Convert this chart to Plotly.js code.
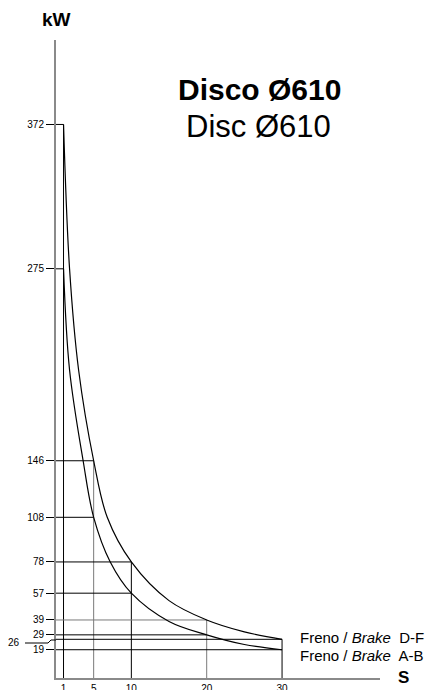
<!DOCTYPE html>
<html>
<head>
<meta charset="utf-8">
<script src="https://cdn.plot.ly/plotly-3.0.1.min.js"></script>
<style>html,body{margin:0;padding:0;background:#fff;}#chart{width:427px;height:690px;}</style>
</head>
<body>
<div id="chart"></div>
<script>
// ---- data ----
const markS  = [1, 5, 10, 20, 30];          // s values with reference lines
const markDF = [372, 146, 78, 39, 26];      // Freno D-F at those s
const markAB = [275, 108, 57, 29, 19];      // Freno A-B at those s

const curveDF_s  = [1, 1.8, 3, 5, 6.8, 10, 15, 20, 25, 30];
const curveDF_kw = [372, 275, 207, 146, 108, 78, 52, 39, 31, 26];
const curveAB_s  = [1, 1.8, 3.6, 5, 7.2, 10, 15, 20, 25, 30];
const curveAB_kw = [275, 207, 146, 108, 78, 57, 38, 29, 22.5, 19];

const kwTicks = [372, 275, 146, 108, 78, 57, 39, 29, 19];
const kwOffsetTick = 26;
const sTicks = [1, 5, 10, 20, 30];

const titleBold = 'Disco Ø610';
const titleReg = 'Disc Ø610';
const labelDF = 'Freno / <i>Brake</i>  D-F';
const labelAB = 'Freno / <i>Brake</i>  A-B';

// ---- layout geometry ----
const M = {l: 56, r: 47, t: 40, b: 12};
const W = 427, H = 690;
const PW = W - M.l - M.r, PH = H - M.t - M.b;
const px = p => (p - M.l) / PW;
const py = p => (H - M.b - p) / PH;

const BLACK = '#000', GRAY = '#7a7a7a';
const vColor = [BLACK, GRAY, BLACK, GRAY, BLACK];
const hColorDF = [BLACK, BLACK, BLACK, GRAY, BLACK];
const hColorAB = [BLACK, BLACK, BLACK, BLACK, BLACK];

const traces = [];
function seg(x, y, color) {
  traces.push({x: x, y: y, mode: 'lines', type: 'scatter', hoverinfo: 'skip',
    showlegend: false, line: {color: color, width: 1}});
}
markS.forEach((s, i) => {
  seg([0, s], [markDF[i], markDF[i]], hColorDF[i]);
  seg([0, s], [markAB[i], markAB[i]], hColorAB[i]);
  seg([s, s], [markDF[i], 0], vColor[i]);
});
traces.push({x: curveDF_s, y: curveDF_kw, mode: 'lines', type: 'scatter', showlegend: false,
  line: {color: BLACK, width: 1.2, shape: 'spline', smoothing: 1}});
traces.push({x: curveAB_s, y: curveAB_kw, mode: 'lines', type: 'scatter', showlegend: false,
  line: {color: BLACK, width: 1.2, shape: 'spline', smoothing: 1}});

const FONT = '"Liberation Sans", Arial, Helvetica, sans-serif';

const layout = {
  width: W, height: H,
  margin: M,
  paper_bgcolor: '#fff', plot_bgcolor: '#fff',
  showlegend: false,
  font: {family: FONT, color: '#000'},
  xaxis: {
    range: [0, 43], showgrid: false, zeroline: false,
    showline: true, linecolor: '#8a8a8a', linewidth: 2,
    tickmode: 'array', tickvals: sTicks, ticktext: sTicks.map(String),
    ticks: '', tickfont: {size: 10, family: FONT}
  },
  yaxis: {
    range: [0, (H - M.b - M.t) / 1.488], showgrid: false, zeroline: false,
    showline: true, linecolor: '#8a8a8a', linewidth: 2,
    tickmode: 'array', tickvals: kwTicks, ticktext: kwTicks.map(String),
    ticks: 'outside', ticklen: 8, tickcolor: '#000', tickwidth: 1,
    tickfont: {size: 10, family: FONT}
  },
  annotations: [
    {text: '<b>kW</b>', xref: 'paper', yref: 'paper', x: px(56), y: py(19),
     showarrow: false, font: {size: 19, family: FONT}, xanchor: 'center', yanchor: 'middle'},
    {text: '<b>S</b>', xref: 'paper', yref: 'paper', x: px(403), y: py(677),
     showarrow: false, font: {size: 17, family: FONT}, xanchor: 'center', yanchor: 'middle'},
    {text: '<b>' + titleBold + '</b>', xref: 'paper', yref: 'paper', x: px(259), y: py(90),
     showarrow: false, font: {size: 30, family: FONT}, xanchor: 'center', yanchor: 'middle'},
    {text: titleReg, xref: 'paper', yref: 'paper', x: px(258), y: py(126),
     showarrow: false, font: {size: 31, family: FONT}, xanchor: 'center', yanchor: 'middle'},
    {text: labelDF, xref: 'paper', yref: 'paper', x: px(298), y: py(637),
     showarrow: false, font: {size: 15, family: FONT}, xanchor: 'left', yanchor: 'middle'},
    {text: labelAB, xref: 'paper', yref: 'paper', x: px(298), y: py(655),
     showarrow: false, font: {size: 15, family: FONT}, xanchor: 'left', yanchor: 'middle'},
    {text: String(kwOffsetTick), xref: 'paper', yref: 'paper', x: px(14), y: py(642),
     showarrow: false, font: {size: 10, family: FONT}, xanchor: 'center', yanchor: 'middle'}
  ],
  shapes: [
    {type: 'path', xref: 'paper', yref: 'paper',
     path: 'M ' + px(25) + ' ' + py(643) + ' L ' + px(48) + ' ' + py(643) +
           ' L ' + px(51) + ' ' + py(640) + ' L ' + px(56) + ' ' + py(640),
     line: {color: '#000', width: 1}}
  ]
};

Plotly.newPlot('chart', traces, layout, {staticPlot: true, displayModeBar: false});
</script>
</body>
</html>
